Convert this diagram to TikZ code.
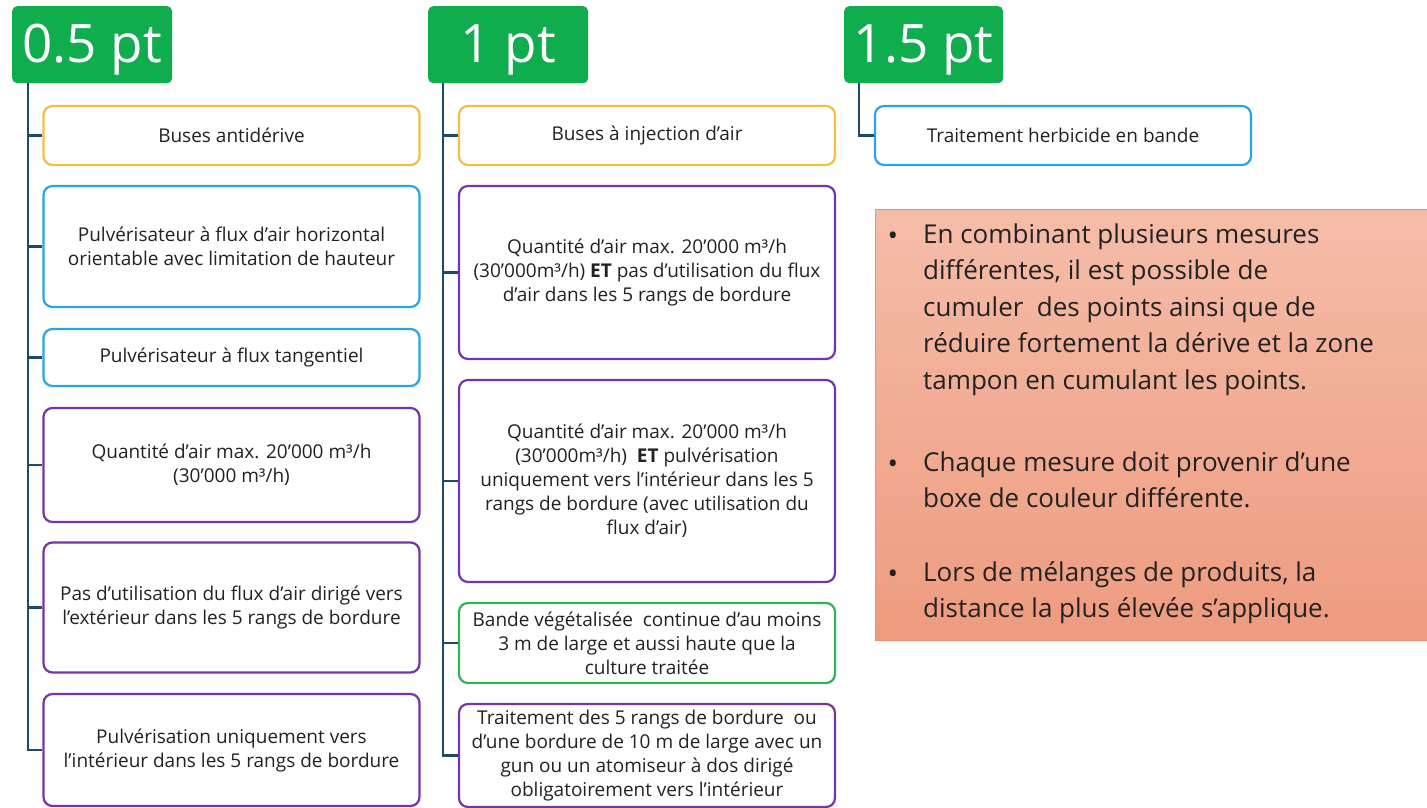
\documentclass[tikz,border=0pt]{standalone}
\usepackage{fontspec}
\setmainfont{Open Sans}
\begin{document}
\begin{tikzpicture}[x=1pt,y=-1pt]
\definecolor{hgreen}{HTML}{10AD4E}
\definecolor{ycol}{HTML}{F2C03E}
\definecolor{bcol}{HTML}{2AA6DE}
\definecolor{pcol}{HTML}{7535A3}
\definecolor{gcol}{HTML}{33B05A}
\definecolor{tcol}{HTML}{1D4A68}
\definecolor{txt}{HTML}{222222}
\definecolor{otop}{HTML}{F5BDA9}
\definecolor{obot}{HTML}{EE9B7F}
\definecolor{oline}{HTML}{E8926F}
\tikzset{
  head/.style={fill=hgreen, rounded corners=5pt, text=white, font=\fontsize{53}{53}\selectfont, anchor=north west, inner sep=0pt, text height=36pt, text depth=0pt},
  mbox/.style={draw=#1, line width=2.2pt, rounded corners=9pt, fill=white, text=txt, align=center, font=\fontsize{19}{24}\selectfont, minimum width=376pt, inner sep=0pt},
  tree/.style={draw=tcol, line width=2.6pt},
  ntext/.style={anchor=base west, text=txt, align=left, font=\fontsize{26}{36.5}\selectfont, inner sep=0pt},
  bul/.style={anchor=base, text=txt, font=\fontsize{28}{28}\selectfont, inner sep=0pt},
}
\useasboundingbox (0,0) rectangle (1427,808);
% headers
\node[head, minimum width=160pt, minimum height=77pt] (h1) at (12,6) {0.5 pt};
\node[head, minimum width=160pt, minimum height=77pt] (h2) at (428,6) {1 pt};
\node[head, minimum width=159pt, minimum height=77pt] (h3) at (844,6) {1.5 pt};
% column 1
\node[mbox=ycol, minimum height=59pt] (a1) at (231.5,135.5) {Buses antidérive};
\node[mbox=bcol, minimum height=121pt] (a2) at (231.5,246.5) {Pulvérisateur à flux d’air horizontal\\orientable avec limitation de hauteur};
\node[mbox=bcol, minimum height=57pt] (a3) at (231.5,357.5) {Pulvérisateur à flux tangentiel};
\node[mbox=pcol, minimum height=114pt] (a4) at (231.5,465) {Quantité d’air max. 20’000 m³/h\\(30’000 m³/h)};
\node[mbox=pcol, minimum height=130pt] (a5) at (231.5,607.5) {Pas d’utilisation du flux d’air dirigé vers\\l’extérieur dans les 5 rangs de bordure};
\node[mbox=pcol, minimum height=112pt] (a6) at (231.5,750) {Pulvérisation uniquement vers\\l’intérieur dans les 5 rangs de bordure};
% column 2
\node[mbox=ycol, minimum height=59pt] (b1) at (647,135.5) {Buses à injection d’air};
\node[mbox=pcol, minimum height=173pt] (b2) at (647,272.5) {Quantité d’air max. 20’000 m³/h\\(30’000m³/h) \textbf{ET} pas d’utilisation du flux\\d’air dans les 5 rangs de bordure};
\node[mbox=pcol, minimum height=202pt] (b3) at (647,481) {Quantité d’air max. 20’000 m³/h\\(30’000m³/h)\ \ \textbf{ET} pulvérisation\\uniquement vers l’intérieur dans les 5\\rangs de bordure (avec utilisation du\\flux d’air)};
\node[mbox=gcol, minimum height=80pt] (b4) at (647,643) {Bande végétalisée\ \ continue d’au moins\\3 m de large et aussi haute que la\\culture traitée};
\node[mbox=pcol, minimum height=103pt] (b5) at (647,755.5) {Traitement des 5 rangs de bordure\ \ ou\\d’une bordure de 10 m de large avec un\\gun ou un atomiseur à dos dirigé\\obligatoirement vers l’intérieur};
% column 3
\node[mbox=bcol, minimum height=59pt] (c1) at (1063,135.5) {Traitement herbicide en bande};
% note box
\node[draw=oline, line width=1.2pt, top color=otop, bottom color=obot, minimum width=556pt, minimum height=431pt, anchor=north west, inner sep=0pt] (note) at (875,209) {};
\node[ntext] (p1) at (923,389) {En combinant plusieurs mesures\\différentes, il est possible de\\cumuler\ \ des points ainsi que de\\réduire fortement la dérive et la zone\\tampon en cumulant les points.};
\node[ntext] (p2) at (923,507.5) {Chaque mesure doit provenir d’une\\boxe de couleur différente.};
\node[ntext] (p3) at (923,617.5) {Lors de mélanges de produits, la\\distance la plus élevée s’applique.};
\node[bul] (d1) at (893,245) {•};
\node[bul] (d2) at (893,473) {•};
\node[bul] (d3) at (893,583) {•};
% tree connectors
\coordinate (t1) at (28,83);
\coordinate (t2) at (443,83);
\coordinate (t3) at (859,83);
\draw[tree] (t1) |- (a6.west);
\foreach \n in {a1,a2,a3,a4,a5} \draw[tree] (t1 |- \n.west) -- (\n.west);
\draw[tree] (t2) |- (b5.west);
\foreach \n in {b1,b2,b3,b4} \draw[tree] (t2 |- \n.west) -- (\n.west);
\draw[tree] (t3) |- (c1.west);
\end{tikzpicture}
\end{document}
